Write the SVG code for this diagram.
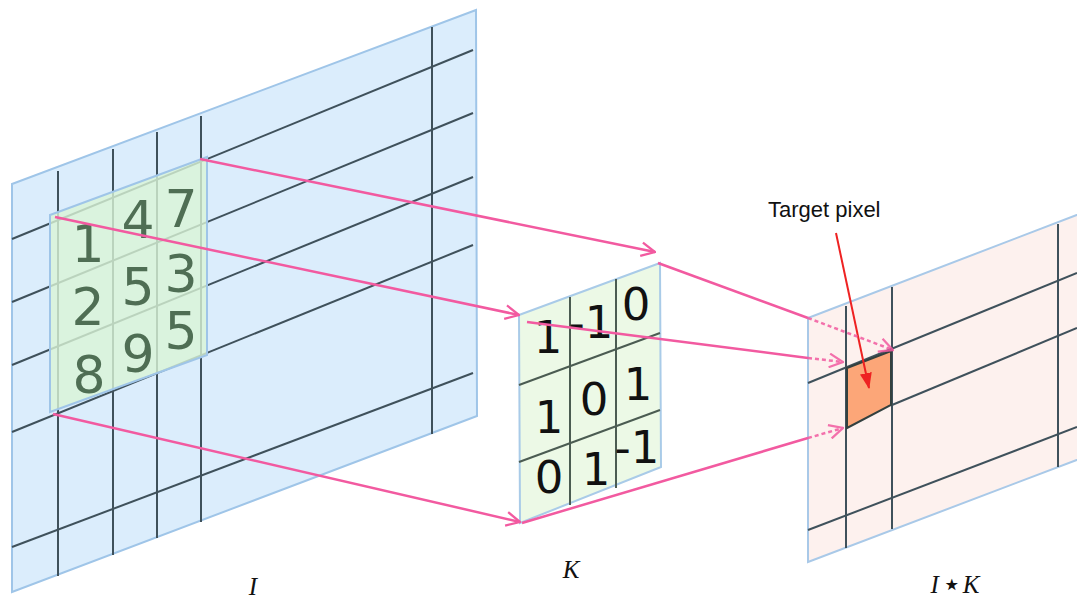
<svg xmlns="http://www.w3.org/2000/svg" width="1077" height="601" viewBox="0 0 1077 601">
<style>
.panelI{fill:#dbedfc;stroke:#9fc5e8;stroke-width:2}
.panelK{fill:#ecf9e6;stroke:#a9cbe8;stroke-width:2}
.panelIK{fill:#fdf1ee;stroke:#a9c9e8;stroke-width:2}
.grid{stroke:#3f515b;stroke-width:2;fill:none}
.kgrid{stroke:#4b5c52;stroke-width:2;fill:none}
.patch{fill:#d9f4d6;fill-opacity:0.8;stroke:#9fc5e8;stroke-width:2}
.dI{font-family:"DejaVu Sans",sans-serif;font-size:52px;fill:#4f6e54;text-anchor:middle}
.dK{font-family:"DejaVu Sans",sans-serif;font-size:45px;fill:#111;text-anchor:middle}
.lab{font-family:"Liberation Serif",serif;font-style:italic;font-size:25px;fill:#111;text-anchor:middle}
.pink{stroke:#f25aa0;stroke-width:2.5;fill:none}
.pinkd{stroke:#f25aa0;stroke-width:2.5;fill:none;stroke-dasharray:4 3;opacity:0.85}
</style>
<defs>
<marker id="open" markerUnits="userSpaceOnUse" markerWidth="16" markerHeight="16" viewBox="0 0 14 14" refX="13" refY="7" orient="auto">
<path d="M1,1 L13,7 L1,13" fill="none" stroke="#f25aa0" stroke-width="2"/>
</marker>
<marker id="red" markerUnits="userSpaceOnUse" markerWidth="16" markerHeight="12" viewBox="0 0 16 12" refX="15" refY="6" orient="auto">
<path d="M0,0 L16,6 L0,12 Z" fill="#ee2222"/>
</marker>
</defs>

<g id="node-I">
<polygon class="panelI" points="12,184 476,10 477,416 12,592"/>
<line class="grid" x1="12" y1="239" x2="473" y2="50"/>
<line class="grid" x1="12" y1="302" x2="473" y2="113"/>
<line class="grid" x1="12" y1="365" x2="473" y2="177"/>
<line class="grid" x1="12" y1="432" x2="473" y2="245"/>
<line class="grid" x1="12" y1="547" x2="473" y2="373"/>
<line class="grid" x1="58" y1="171" x2="58" y2="576"/>
<line class="grid" x1="113" y1="149" x2="113" y2="555"/>
<line class="grid" x1="157" y1="132" x2="157" y2="538"/>
<line class="grid" x1="201" y1="116" x2="201" y2="522"/>
<line class="grid" x1="432" y1="27" x2="432" y2="434"/>
<polygon class="patch" points="50,215 207,157 207,355 50,412"/>
<text class="dI" x="88" y="262">1</text>
<text class="dI" x="138" y="238">4</text>
<text class="dI" x="181" y="227">7</text>
<text class="dI" x="88" y="325">2</text>
<text class="dI" x="138" y="305">5</text>
<text class="dI" x="181" y="292">3</text>
<text class="dI" x="89" y="393">8</text>
<text class="dI" x="138" y="372">9</text>
<text class="dI" x="181" y="349">5</text>
<text class="lab" x="253" y="595">I</text>
</g>

<g id="node-K">
<polygon class="panelK" points="519,315 660,263 661,467 520,523"/>
<line class="kgrid" x1="570" y1="297" x2="570" y2="505"/>
<line class="kgrid" x1="616" y1="279" x2="616" y2="488"/>
<line class="kgrid" x1="519" y1="385" x2="660" y2="333"/>
<line class="kgrid" x1="519" y1="462" x2="660" y2="410"/>
<text class="dK" x="548" y="353">1</text>
<text class="dK" x="591" y="338">-1</text>
<text class="dK" x="636" y="320">0</text>
<text class="dK" x="549" y="433">1</text>
<text class="dK" x="594" y="415">0</text>
<text class="dK" x="638" y="400">1</text>
<text class="dK" x="549" y="493">0</text>
<text class="dK" x="596" y="485">1</text>
<text class="dK" x="637" y="463">-1</text>
<text class="lab" x="571" y="578">K</text>
</g>

<g id="node-IK">
<polygon class="panelIK" points="808,318 1095,208 1095,453 808,562"/>
<line class="grid" x1="808" y1="383" x2="1077" y2="273"/>
<line class="grid" x1="892" y1="405" x2="1077" y2="328"/>
<line class="grid" x1="808" y1="530" x2="1077" y2="427"/>
<line class="grid" x1="846" y1="306" x2="846" y2="548"/>
<line class="grid" x1="892" y1="287" x2="892" y2="529"/>
<line class="grid" x1="1058" y1="224" x2="1058" y2="467"/>
<polygon points="847,368 891,351 891,405 847,428" fill="#fca678" stroke="#33403f" stroke-width="2"/>
<text class="lab" x="955" y="593">I<tspan font-style="normal" font-family="DejaVu Sans, sans-serif" font-size="32" dx="3" dy="2">⋆</tspan><tspan dx="1" dy="-2">K</tspan></text>
</g>

<g id="target-label">
<text x="768" y="217" font-family="Liberation Sans, Arial, sans-serif" font-size="22" fill="#111">Target pixel</text>
<line x1="836" y1="233" x2="869" y2="388" stroke="#ee2222" stroke-width="2" marker-end="url(#red)"/>
</g>

<g id="connectors">
<line class="pink" x1="200" y1="159" x2="655" y2="252" marker-end="url(#open)"/>
<line class="pink" x1="55" y1="217" x2="519" y2="315" marker-end="url(#open)"/>
<line class="pink" x1="53" y1="414" x2="520" y2="522" marker-end="url(#open)"/>
<line class="pink" x1="658" y1="263" x2="808" y2="318"/>
<line class="pinkd" x1="808" y1="318" x2="893" y2="350" marker-end="url(#open)"/>
<line class="pink" x1="527" y1="322" x2="808" y2="358"/>
<line class="pinkd" x1="808" y1="358" x2="843" y2="362" marker-end="url(#open)"/>
<line class="pink" x1="522" y1="523" x2="808" y2="438"/>
<line class="pinkd" x1="808" y1="438" x2="843" y2="428" marker-end="url(#open)"/>
</g>
</svg>
